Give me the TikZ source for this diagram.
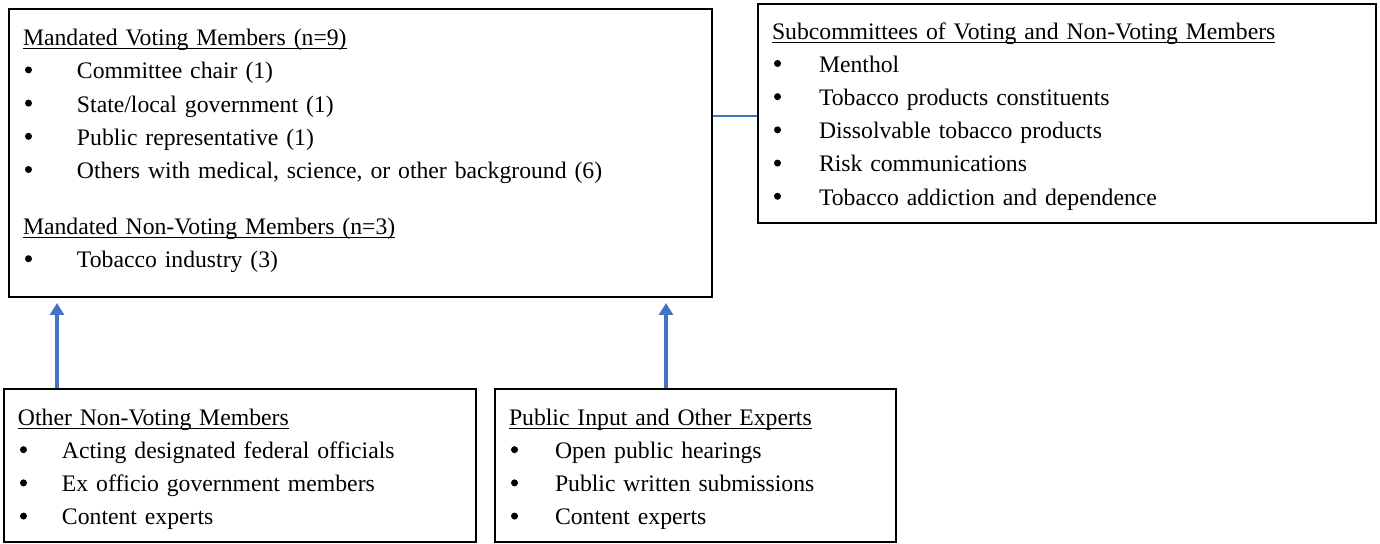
\documentclass[tikz,border=0pt]{standalone}
\usepackage{fontspec}
\setmainfont{Liberation Serif}
\usepackage{xcolor}
\usepackage{tikz}
\usetikzlibrary{arrows.meta,positioning,calc}
\definecolor{linkblue}{HTML}{4472C4}
% underlined heading, with an extra top strut of height #1
\newcommand{\hd}[2][0pt]{\leavevmode\rule{0pt}{#1}\setbox0\hbox{#2}\rlap{\rule[-1.9pt]{\wd0}{0.55pt}}\box0}
\newcommand{\itm}[2]{\hspace*{1pt}\makebox[#1][l]{\raisebox{2.7pt}{\tikz\fill (0,0) circle (1.75pt);}}#2}

\begin{document}
\begin{tikzpicture}[x=0.5pt, y=-0.5pt,
  font=\fontsize{11.85pt}{16.6pt}\selectfont,
  panel/.style={draw, line width=1pt, align=left, inner xsep=7pt, inner ysep=0pt},
  arr/.style={-{Triangle[length=6pt, width=7pt]}, line width=1.6pt, linkblue, shorten >=2.5pt}]
\useasboundingbox (0,0) rectangle (1380,544);
\node[panel, text width=337.5pt, minimum height=144pt] (main) at (360.5,153) {\hd{Mandated Voting Members (n=9)}\\
  \itm{26pt}{Committee chair (1)}\\
  \itm{26pt}{State/local government (1)}\\
  \itm{26pt}{Public representative (1)}\\
  \itm{26pt}{Others with medical, science, or other background (6)}\\[11.4pt]
  \hd{Mandated Non-Voting Members (n=3)}\\
  \itm{26pt}{Tobacco industry (3)}\rule[-4.6pt]{0pt}{0pt}};
\node[panel, text width=295pt, minimum height=109.5pt] (sub) at (1067,113.5) {\hd[11.2pt]{Subcommittees of Voting and Non-Voting Members}\\
  \itm{22.5pt}{Menthol}\\
  \itm{22.5pt}{Tobacco products constituents}\\
  \itm{22.5pt}{Dissolvable tobacco products}\\
  \itm{22.5pt}{Risk communications}\\
  \itm{22.5pt}{Tobacco addiction and dependence}};
\node[panel, text width=222pt, minimum height=76.5pt] (other) at (240,465.5) {\hd[12.2pt]{Other Non-Voting Members}\\
  \itm{21pt}{Acting designated federal officials}\\
  \itm{21pt}{Ex officio government members}\\
  \itm{21pt}{Content experts}};
\node[panel, text width=186.5pt, minimum height=76.5pt] (public) at (695.5,465.5) {\hd[12.2pt]{Public Input and Other Experts}\\
  \itm{22pt}{Open public hearings}\\
  \itm{22pt}{Public written submissions}\\
  \itm{22pt}{Content experts}};
\coordinate (a1) at ([xshift=27pt]other.north west);
\coordinate (a2) at ([xshift=-14.75pt]public.north);
\coordinate (c1) at ([yshift=-1.5pt]sub.west);
\draw[linkblue, line width=1pt] (c1) -- (c1 -| main.east);
\draw[arr] (a1) -- (a1 |- main.south);
\draw[arr] (a2) -- (a2 |- main.south);
\end{tikzpicture}
\end{document}
